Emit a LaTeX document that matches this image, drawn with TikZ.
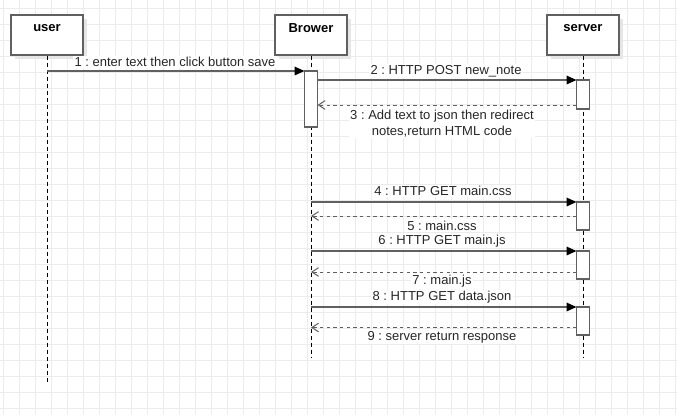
\documentclass[tikz,border=0pt]{standalone}
\usepackage{fontspec}
\setmainfont{Liberation Sans}
\usetikzlibrary{arrows.meta,calc}
\frenchspacing
\definecolor{gridc}{RGB}{236,236,236}
\definecolor{linec}{RGB}{96,96,96}
\definecolor{shadowc}{RGB}{230,230,230}
\tikzset{
  gridline/.style={draw=gridc,line width=0.75pt},
  actor/.style={draw=linec,fill=white,line width=1pt,minimum width=54pt,minimum height=30pt,inner sep=0pt},
  actorlabel/.style={font=\fontsize{9.75}{11.5}\selectfont\bfseries,inner sep=0pt},
  shadowbox/.style={fill=shadowc},
  lifeline/.style={draw=black,line width=0.75pt,dash pattern=on 3pt off 2.25pt},
  act/.style={draw=linec,fill=white,line width=1pt,minimum width=9.75pt,inner sep=0pt,outer sep=0pt},
  msg/.style={draw=linec,line width=1pt,-{Triangle[length=7.5pt,width=6.5pt,color=black,fill=black]}},
  ret/.style={draw=linec,line width=0.75pt,dash pattern=on 2.5pt off 2.5pt,-{Straight Barb[length=5pt,width=6.5pt,color=linec]}},
  msglabel/.style={font=\fontsize{9.75}{11.5}\selectfont\frenchspacing,fill=white,inner sep=1pt,align=center,text=black!85}
}
\begin{document}
\begin{tikzpicture}[x=0.75pt,y=-0.75pt]
\fill[white] (0,0) rectangle (677,415);
\useasboundingbox (0,0) rectangle (677,415);
% grid
\foreach \x in {3,19,...,675} \draw[gridline] (\x,0) -- (\x,415);
\foreach \y in {8,24,...,408} \draw[gridline] (0,\y) -- (677,\y);
% shadows
\fill[shadowbox] (15,19) rectangle (87,59);
\fill[shadowbox] (279,19) rectangle (351,59);
\fill[shadowbox] (551,19) rectangle (623,59);
% actor boxes
\node[actor] (user) at (47,35) {};
\node[actor] (brow) at (311,35) {};
\node[actor] (serv) at (583,35) {};
\node[actorlabel] (userlab) at ($(user.north)+(0,14)$) {user};
\node[actorlabel] (browlab) at ($(brow.north)+(0,14)$) {Brower};
\node[actorlabel] (servlab) at ($(serv.north)+(0,14)$) {server};
% lifeline ends
\coordinate (userend) at (47,382);
\coordinate (browend) at (311,358);
\coordinate (servend) at (583,358);
\draw[lifeline] (user.south) -- (userend);
\draw[lifeline] (brow.south) -- (browend);
\draw[lifeline] (serv.south) -- (servend);
% activations
\node[act,minimum height=42pt] (A1) at (311,99) {};
\node[act,minimum height=21.75pt] (S1) at (583,94.5) {};
\node[act,minimum height=21pt] (S2) at (583,216) {};
\node[act,minimum height=21pt] (S3) at (583,265) {};
\node[act,minimum height=21pt] (S4) at (583,321) {};
% message anchor coordinates
\coordinate (m1) at (47,71);
\coordinate (r3) at (0,105);
\coordinate (m4) at (311,202);
\coordinate (r5) at (311,216);
\coordinate (m6) at (311,251);
\coordinate (r7) at (311,272);
\coordinate (m8) at (311,307);
\coordinate (r9) at (311,327.5);
% messages
\draw[msg] (m1) -- (A1.north west);
\draw[msg] (A1.east |- S1.north) -- (S1.north west);
\draw[ret] (S1.west |- r3) -- (A1.east |- r3);
\draw[msg] (m4) -- (S2.north west);
\draw[ret] (S2.west |- r5) -- (r5);
\draw[msg] (m6) -- (S3.north west);
\draw[ret] (S3.west |- r7) -- (r7);
\draw[msg] (m8) -- (S4.north west);
\draw[ret] (S4.west |- r9) -- (r9);
% labels
\node[msglabel] (l1) at (175,62) {1 : enter text then click button save};
\node[msglabel] (l2) at (446,71) {2 : HTTP POST new\_note};
\node[msglabel] (l3) at (442,123.5) {3 : Add text to json then redirect\\notes,return HTML code};
\node[msglabel] (l4) at (443,191) {4 : HTTP GET main.css};
\node[msglabel] (l5) at (442,225.5) {5 : main.css};
\node[msglabel] (l6) at (442,241) {6 : HTTP GET main.js};
\node[msglabel] (l7) at (442,281.5) {7 : main.js};
\node[msglabel] (l8) at (442,297) {8 : HTTP GET data.json};
\node[msglabel] (l9) at (442,337) {9 : server return response};
\end{tikzpicture}
\end{document}
